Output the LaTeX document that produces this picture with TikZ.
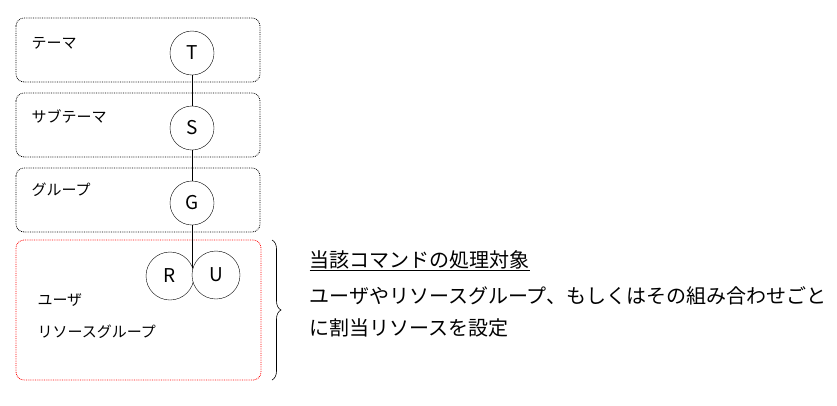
\documentclass[tikz,border=0pt]{standalone}
\usepackage{fontspec}
\setmainfont{Noto Sans CJK JP}
\usetikzlibrary{decorations.pathreplacing}
\begin{document}
\begin{tikzpicture}[x=1pt,y=-1pt,
  layer/.style={draw,densely dotted,thick,rounded corners=8pt},
  circ/.style={draw,circle,minimum size=44pt,inner sep=0pt,font=\fontsize{19}{19}\selectfont,fill=white},
  lbl/.style={anchor=west,font=\fontsize{15}{15}\selectfont},
  txt/.style={anchor=west,font=\fontsize{20}{20}\selectfont}]
\useasboundingbox (0,0) rectangle (837,405);
\draw[layer] (16,18) rectangle (260,82);
\draw[layer] (16,93) rectangle (260,157);
\draw[layer] (16,168) rectangle (260,232);
\draw[layer,red] (16,240) rectangle (261,380);
\coordinate (j) at (192,268);
\node[circ] (T) at (192,53) {T};
\node[circ] (S) at (192,128) {S};
\node[circ] (G) at (192,203) {G};
\node[circ,minimum size=48pt] (R) at (170,276) {R};
\node[circ,minimum size=48pt] (U) at (216,275) {U};
\draw[semithick] (T) -- (S) (S) -- (G) (G) -- (j);
\node[lbl] (l1) at (28,43) {テーマ};
\node[lbl] (l2) at (28,116) {サブテーマ};
\node[lbl] (l3) at (28,190) {グループ};
\node[lbl] (l4) at (34,300) {ユーザ};
\node[lbl] (l5) at (34,332) {リソースグループ};
\draw[semithick,decorate,decoration={brace,amplitude=9pt}] (272,240) -- (272,380);
\node[txt] (t1) at (306,261) {\underline{当該コマンドの処理対象}};
\node[txt] (t2) at (306,296) {ユーザやリソースグループ、もしくはその組み合わせごと};
\node[txt] (t3) at (306,328) {に割当リソースを設定};
\end{tikzpicture}
\end{document}
